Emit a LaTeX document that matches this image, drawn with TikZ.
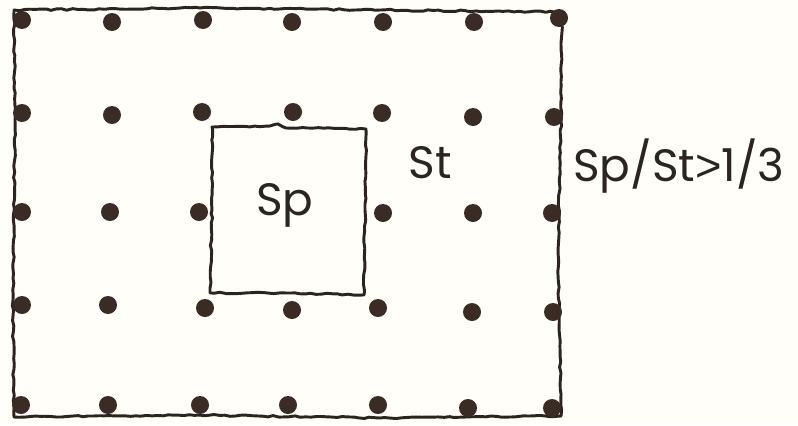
\documentclass[tikz,border=0pt]{standalone}
\usepackage{fontspec}
\setmainfont{Poppins}
\newfontfamily\gtfont{Liberation Sans}
\usetikzlibrary{decorations.pathmorphing}
\definecolor{ink}{HTML}{2B2420}
\definecolor{dotink}{HTML}{3A2C25}
\definecolor{paper}{HTML}{FFFEF9}
\begin{document}
\begin{tikzpicture}[x=0.75pt,y=-0.75pt,
  sketch/.style={draw=ink,line width=2.2pt,line join=round,line cap=round,
    decorate,decoration={random steps,segment length=4pt,amplitude=0.6pt}},
  dotmark/.style={fill=dotink},
  lbl/.style={inner sep=0pt,anchor=base,text=ink,font=\fontsize{34}{40}\selectfont}]
\fill[paper] (0,0) rectangle (798,425);
\useasboundingbox (0,0) rectangle (798,425);
% outer square (hand drawn)
\draw[sketch] (14,10) -- (200,8) -- (380,10) -- (562,12) -- (561,120) -- (558,250) -- (561,416) -- (380,418) -- (200,415) -- (14,417) -- (13,300) -- (15,120) -- cycle;
% inner square
\draw[sketch] (212,127) -- (270,126) -- (278,124) -- (286,128) -- (366,129) -- (365,210) -- (364,295) -- (290,293) -- (210,293) -- (212,210) -- cycle;
% dots
\foreach \p in {(22,20),(112,22),(203,20),(292,22),(383,22),(474,22),(559,18),
  (22,113),(112,115),(202,112),(293,112),(382,113),(473,117),(554,117),
  (22,212),(110,212),(199,212),(383,213),(473,213),(552,213),
  (22,305),(108,305),(205,308),(292,310),(378,308),(472,312),(553,312),
  (21,405),(108,405),(200,405),(288,405),(378,405),(468,408),(552,408)}
  \fill[dotmark] \p circle (9);
% labels
\node[lbl] (sp) at (285,215) {Sp};
\node[lbl] (st) at (430,178) {St};
\node[lbl,anchor=base west] (ratio) at (573,181) {Sp/St{\gtfont >}1/3};
\end{tikzpicture}
\end{document}
